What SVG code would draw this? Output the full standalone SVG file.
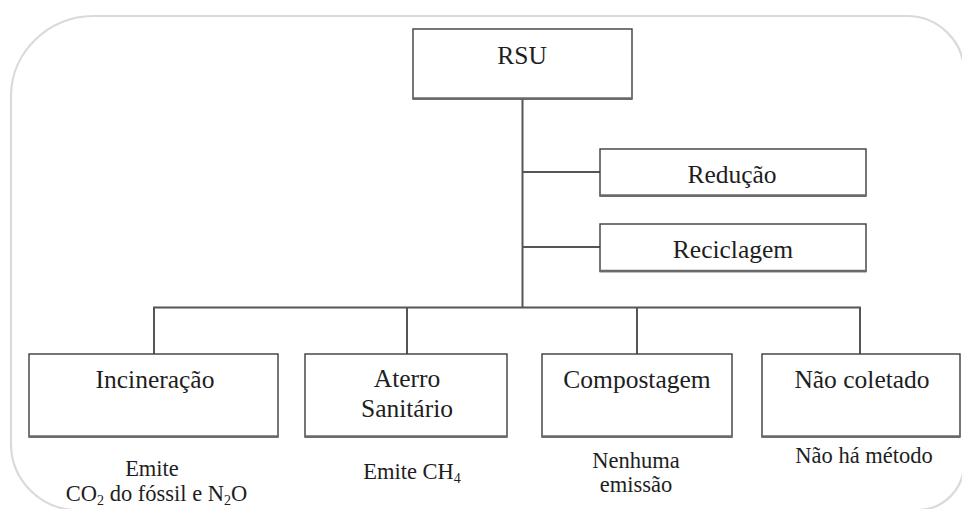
<svg xmlns="http://www.w3.org/2000/svg" width="962" height="509" viewBox="0 0 962 509">
<style>
  .frame { fill: none; stroke: #dadada; stroke-width: 2.2; }
  .box rect { fill: #ffffff; stroke: #3c3c3c; stroke-width: 1.4; }
  .box line.shade { stroke: #6a6a6a; stroke-width: 2.4; }
  .conn line { stroke: #555555; stroke-width: 2; }
  text { fill: #1e1e1e; text-anchor: middle; }
</style>
<rect width="962" height="509" fill="#ffffff"/>
<path class="frame" d="M 11,96 C 11,52 49,16 93,16 L 907,16 C 938,16 964,41 964,72 L 964,464 C 964,489 943,510 918,510 L 77,510 C 41,510 11,480 11,444 Z"/>

<g id="connectors" class="conn">
  <line x1="522.5" y1="99" x2="522.5" y2="308"/>
  <line x1="522.5" y1="172" x2="600" y2="172"/>
  <line x1="522.5" y1="247" x2="600" y2="247"/>
  <line x1="153" y1="307.5" x2="861" y2="307.5"/>
  <line x1="154" y1="307" x2="154" y2="354"/>
  <line x1="407" y1="307" x2="407" y2="354"/>
  <line x1="637" y1="307" x2="637" y2="354"/>
  <line x1="860" y1="307" x2="860" y2="354"/>
</g>

<g id="rsu" class="box">
  <rect x="413" y="29" width="219" height="70"/>
  <line class="shade" x1="413" y1="98.5" x2="632" y2="98.5"/>
  <text x="522" y="64" font-family="'Liberation Serif', serif" font-size="25.5">RSU</text>
</g>

<g id="reducao" class="box">
  <rect x="600" y="149" width="266" height="47"/>
  <line class="shade" x1="600" y1="195.5" x2="866" y2="195.5"/>
  <text x="732" y="183" font-family="'Liberation Serif', serif" font-size="25.5">Redução</text>
</g>

<g id="reciclagem" class="box">
  <rect x="600" y="224" width="266" height="47.5"/>
  <line class="shade" x1="600" y1="271" x2="866" y2="271"/>
  <text x="733" y="258" font-family="'Liberation Serif', serif" font-size="25.5">Reciclagem</text>
</g>

<g id="incineracao" class="box">
  <rect x="29" y="354" width="249" height="83"/>
  <line class="shade" x1="29" y1="436.5" x2="278" y2="436.5"/>
  <text x="155" y="388" font-family="'Liberation Serif', serif" font-size="25.5">Incineração</text>
  <text x="152" y="476" font-family="'Liberation Serif', serif" font-size="22.5">Emite</text>
  <text x="156.5" y="501" font-family="'Liberation Serif', serif" font-size="22.5">CO<tspan font-size="14" dy="4">2</tspan><tspan dy="-4"> do fóssil e N</tspan><tspan font-size="14" dy="4">2</tspan><tspan dy="-4">O</tspan></text>
</g>

<g id="aterro" class="box">
  <rect x="305" y="354" width="202" height="83"/>
  <line class="shade" x1="305" y1="436.5" x2="507" y2="436.5"/>
  <text x="407" y="387" font-family="'Liberation Serif', serif" font-size="25.5">Aterro</text>
  <text x="407" y="417" font-family="'Liberation Serif', serif" font-size="25.5">Sanitário</text>
  <text x="412" y="479" font-family="'Liberation Serif', serif" font-size="22.5">Emite CH<tspan font-size="14" dy="4">4</tspan></text>
</g>

<g id="compostagem" class="box">
  <rect x="542" y="354" width="190" height="83"/>
  <line class="shade" x1="542" y1="436.5" x2="732" y2="436.5"/>
  <text x="637" y="388" font-family="'Liberation Serif', serif" font-size="25.5">Compostagem</text>
  <text x="636" y="468" font-family="'Liberation Serif', serif" font-size="22.5">Nenhuma</text>
  <text x="636" y="492" font-family="'Liberation Serif', serif" font-size="22.5">emissão</text>
</g>

<g id="nao-coletado" class="box">
  <rect x="762" y="354" width="198" height="83"/>
  <line class="shade" x1="762" y1="436.5" x2="960" y2="436.5"/>
  <text x="862" y="388" font-family="'Liberation Serif', serif" font-size="25.5">Não coletado</text>
  <text x="864" y="463" font-family="'Liberation Serif', serif" font-size="22.5">Não há método</text>
</g>
</svg>
